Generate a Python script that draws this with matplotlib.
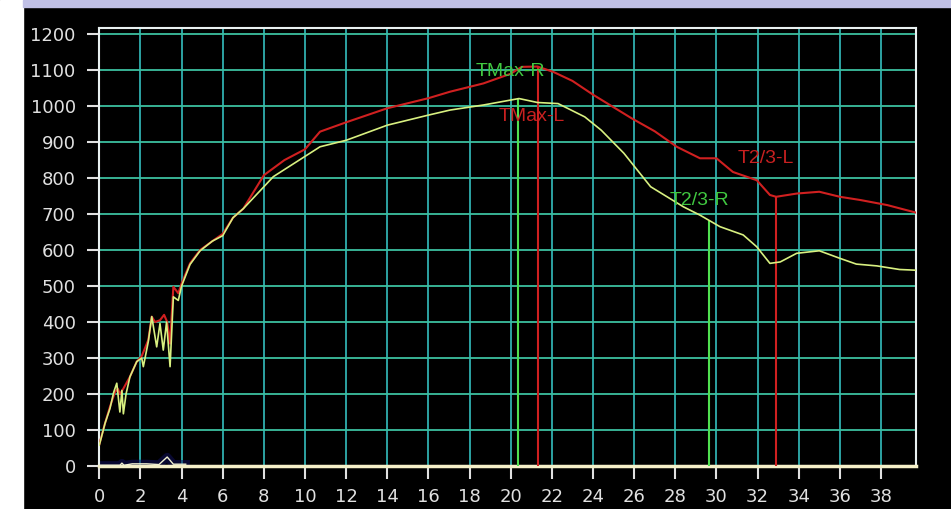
import numpy as np
import matplotlib
matplotlib.use("Agg")
import matplotlib.pyplot as plt
from matplotlib.patches import Rectangle

# curva L (vermelha)
tempo_L = [0, 0.28, 0.52, 0.76, 0.9, 1.0, 1.17, 1.49, 1.82, 2.06, 2.38, 2.55, 2.71, 2.95,
           3.15, 3.3, 3.44, 3.6, 3.84, 4.0, 4.41, 4.9, 5.5, 6.0, 6.5, 7.0, 8.0, 9.0, 10.0,
           10.73, 12, 14, 16, 17.05, 18.67, 20.0, 20.53, 21.3, 22.07, 23.0, 24.02, 25.88,
           27.0, 28.07, 29.2, 30.0, 30.8, 31.96, 32.6, 32.9, 33.9, 35.0, 36.0, 37.0, 38.3, 39.7]
valores_L = [60, 119, 165, 205, 215, 200, 215, 248, 290, 305, 350, 415, 400, 405,
             420, 400, 340, 498, 480, 507, 563, 600, 625, 645, 690, 715, 808, 850, 880,
             929, 955, 994, 1022, 1040, 1063, 1090, 1109, 1110, 1095, 1070, 1031, 966,
             930, 887, 855, 855, 817, 794, 753, 748, 757, 762, 748, 739, 725, 704]

# curva R (verde-amarela)
tempo_R = [0, 0.28, 0.52, 0.7, 0.85, 1.0, 1.1, 1.17, 1.3, 1.49, 1.82, 2.06, 2.14, 2.38,
           2.55, 2.65, 2.79, 2.95, 3.11, 3.27, 3.44, 3.6, 3.84, 4.0, 4.41, 4.9, 5.5, 6.0,
           6.5, 7.0, 8.46, 10.73, 12, 14, 16, 17.05, 18.67, 20.4, 21.3, 22.3, 23.6, 24.4,
           25.5, 26.8, 28.4, 29.2, 30.17, 31.3, 31.96, 32.6, 33.1, 33.9, 35.0, 36.0, 36.8,
           37.8, 38.9, 39.7]
valores_R = [58, 119, 160, 205, 230, 150, 210, 145, 200, 248, 290, 300, 276, 345,
             415, 380, 331, 396, 322, 400, 276, 470, 460, 500, 560, 598, 625, 640,
             690, 715, 804, 887, 905, 947, 975, 989, 1003, 1021, 1010, 1007, 970, 933,
             869, 776, 720, 697, 665, 642, 609, 563, 567, 591, 598, 577, 561,
             556, 546, 544]

# serie perto de zero
tempo_0 = [0, 1.0, 1.1, 1.2, 1.6, 2.3, 2.9, 3.3, 3.6, 4.2]
valores_0 = [2, 2, 8, 2, 6, 6, 4, 25, 5, 5]

# marcadores
marcas_R = {"TMax-R": 20.37, "T2/3-R": 29.66}
marcas_L = {"TMax-L": 21.32, "T2/3-L": 32.88}
rotulos = [("TMax-R", 18.27, 1097, "#40c840"), ("TMax-L", 19.43, 972, "#c82020"),
           ("T2/3-L", 31.05, 855, "#c82020"), ("T2/3-R", 27.74, 739, "#40c840")]

fig = plt.figure(figsize=(9.51, 5.09), dpi=100, facecolor="black")
fig.patches.append(Rectangle((0, 0), 23 / 951, 1, transform=fig.transFigure,
                             color="white", zorder=0))
fig.patches.append(Rectangle((23 / 951, 1 - 7 / 509), 1, 7 / 509, transform=fig.transFigure,
                             color="#c0c0e6", zorder=0))

ax = fig.add_axes([99.3 / 951, 43 / 509, (916 - 99.3) / 951, 438 / 509])
ax.set_facecolor("black")

ax.set_xlim(0, 39.7)
ax.set_ylim(0, 1217)
ax.set_xticks(np.arange(0, 39, 2))
ax.set_yticks(np.arange(0, 1201, 100))

ax.grid(True, axis="y", color="#3cc0a0", linewidth=1.3)
ax.grid(True, axis="x", color="#30b0b0", linewidth=1.3)
ax.set_axisbelow(True)

ax.plot(tempo_0, valores_0, color="#101060", linewidth=6, alpha=0.5, zorder=2)
ax.plot(tempo_0, valores_0, color="#f0f0d0", linewidth=1.0, zorder=3)

# linhas verticais ate a curva
for nome, x in marcas_R.items():
    ax.vlines(x, 0, np.interp(x, tempo_R, valores_R), color="#50e050", linewidth=1.5, zorder=3)
for nome, x in marcas_L.items():
    ax.vlines(x, 0, np.interp(x, tempo_L, valores_L), color="#d02020", linewidth=1.5, zorder=3)

ax.plot(tempo_L, valores_L, color="#d02020", linewidth=1.5, zorder=4)
ax.plot(tempo_R, valores_R, color="#d8f080", linewidth=1.2, zorder=5)

for texto, x, y, cor in rotulos:
    ax.text(x, y, texto, color=cor, fontsize=14, family="Liberation Sans",
            va="center", ha="left", zorder=6)

for lado in ["left", "top", "right"]:
    ax.spines[lado].set_color("#e8f0f0")
    ax.spines[lado].set_linewidth(1.5)
ax.spines["bottom"].set_color("#f5f0c8")
ax.spines["bottom"].set_linewidth(2.5)

ax.tick_params(colors="#e0e0e0", length=9, width=1.5, labelsize=13, pad=7)
ax.tick_params(axis="y", pad=8)
for lbl in ax.get_xticklabels() + ax.get_yticklabels():
    lbl.set_family("DejaVu Sans")

fig.savefig("out.png", dpi=100, facecolor="black")
